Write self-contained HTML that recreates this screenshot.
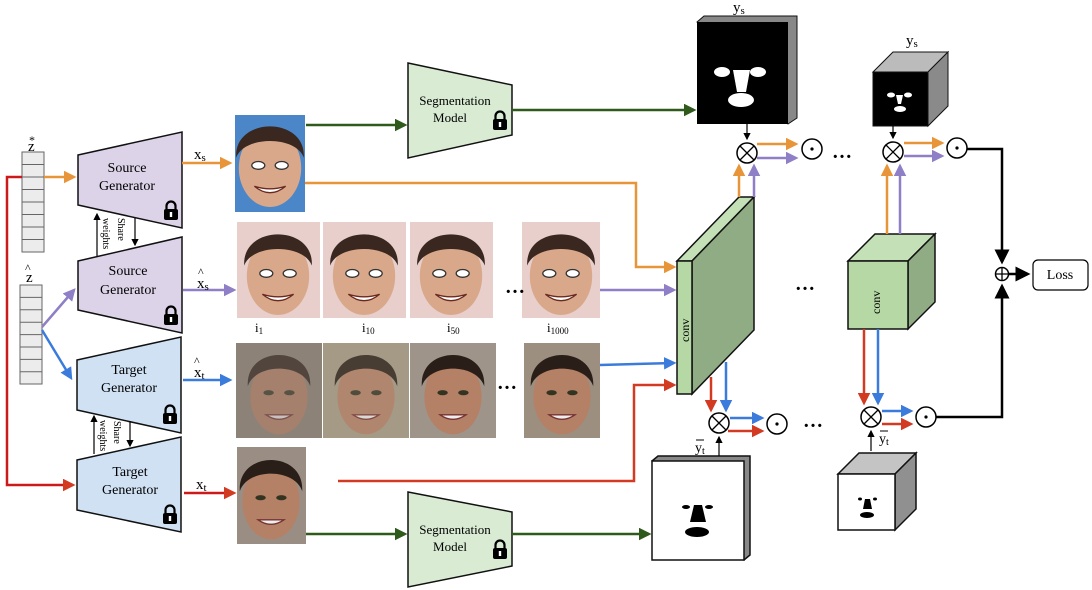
<!DOCTYPE html>
<html><head><meta charset="utf-8"><style>body{margin:0;background:#fff}svg{display:block}text{font-family:"Liberation Serif",serif;fill:#000}</style></head><body>
<svg width="1092" height="590" viewBox="0 0 1092 590" xmlns="http://www.w3.org/2000/svg">
<defs>
<marker id="ao" markerWidth="5" markerHeight="5" refX="4" refY="2.5" orient="auto" markerUnits="strokeWidth"><path d="M0,0L5,2.5L0,5z" fill="#e8953a"/></marker>
<marker id="ap" markerWidth="5" markerHeight="5" refX="4" refY="2.5" orient="auto" markerUnits="strokeWidth"><path d="M0,0L5,2.5L0,5z" fill="#8f7fc6"/></marker>
<marker id="ab" markerWidth="5" markerHeight="5" refX="4" refY="2.5" orient="auto" markerUnits="strokeWidth"><path d="M0,0L5,2.5L0,5z" fill="#3b7bdc"/></marker>
<marker id="ar" markerWidth="5" markerHeight="5" refX="4" refY="2.5" orient="auto" markerUnits="strokeWidth"><path d="M0,0L5,2.5L0,5z" fill="#d23a22"/></marker>
<marker id="ag" markerWidth="5" markerHeight="5" refX="4" refY="2.5" orient="auto" markerUnits="strokeWidth"><path d="M0,0L5,2.5L0,5z" fill="#2f5a1c"/></marker>
<marker id="ak" markerWidth="6" markerHeight="6" refX="5" refY="3" orient="auto" markerUnits="strokeWidth"><path d="M0,0L6,3L0,6z" fill="#000"/></marker>
<g id="lock"><rect x="-7" y="-4" width="14" height="11" rx="2" fill="#000"/><path d="M-4.5,-4v-3a4.5,4.5 0 0 1 9,0v3" fill="none" stroke="#000" stroke-width="2.2"/><rect x="-1.2" y="-1" width="2.4" height="5" fill="#fff"/></g>
<g id="face"><ellipse cx="0" cy="0" rx="24" ry="30" fill="#d9a88a"/><path d="M-26,-8C-28,-40 28,-40 26,-8C20,-25 -20,-25 -26,-8z" fill="#3a2820"/><ellipse cx="-9" cy="-2" rx="5" ry="3" fill="#fff" stroke="#333"/><ellipse cx="9" cy="-2" rx="5" ry="3" fill="#fff" stroke="#333"/><path d="M-12,14Q0,24 12,14Q0,18 -12,14z" fill="#fff" stroke="#6a2a20"/></g>
<g id="tface"><ellipse cx="0" cy="2" rx="22" ry="29" fill="#b48066"/><path d="M-24,-6C-26,-38 26,-38 24,-6C18,-24 -18,-24 -24,-6z" fill="#2a1e18"/><ellipse cx="-8" cy="-1" rx="4" ry="2" fill="#332"/><ellipse cx="8" cy="-1" rx="4" ry="2" fill="#332"/><path d="M-10,16Q0,23 10,16z" fill="#eee" stroke="#733"/></g>
</defs>

<g fill="#ececec" stroke="#666" stroke-width="1">
<rect x="22" y="152" width="22" height="100"/>
<path d="M22,164.5h22M22,177h22M22,189.5h22M22,202h22M22,214.5h22M22,227h22M22,239.5h22"/>
<rect x="20" y="285" width="22" height="99"/>
<path d="M20,297.4h22M20,309.8h22M20,322.2h22M20,334.6h22M20,347h22M20,359.4h22M20,371.8h22"/>
</g>
<text x="28" y="151" font-size="15">z</text><text x="29" y="144" font-size="12">*</text>
<text x="26" y="282" font-size="15">z</text><text x="25" y="272" font-size="12">^</text>

<g stroke="#111" stroke-width="1.5">
<path d="M78,155L182,132L182,228L78,205z" fill="#dcd3e8"/>
<path d="M78,261L182,237L182,333L78,310z" fill="#dcd3e8"/>
<path d="M77,360L181,337L181,433L77,410z" fill="#cfe1f3"/>
<path d="M77,460L181,437L181,532L77,510z" fill="#cfe1f3"/>
</g>
<g font-size="14" text-anchor="middle">
<text x="127" y="172">Source</text><text x="127" y="190">Generator</text>
<text x="128" y="275">Source</text><text x="128" y="294">Generator</text>
<text x="129" y="374">Target</text><text x="129" y="392">Generator</text>
<text x="130" y="476">Target</text><text x="130" y="494">Generator</text>
</g>
<use href="#lock" x="171" y="213"/><use href="#lock" x="171" y="318"/><use href="#lock" x="170" y="417"/><use href="#lock" x="170" y="517"/>
<g stroke="#000" stroke-width="1.2">
<line x1="97" y1="256" x2="97" y2="214" marker-end="url(#ak)"/><line x1="135" y1="218" x2="135" y2="245" marker-end="url(#ak)"/>
<line x1="94" y1="454" x2="94" y2="416" marker-end="url(#ak)"/><line x1="130" y1="421" x2="130" y2="446" marker-end="url(#ak)"/>
</g>
<text font-size="10" transform="translate(118,218) rotate(90)">Share</text><text font-size="10" transform="translate(103,218) rotate(90)">weights</text>
<text font-size="10" transform="translate(114,421) rotate(90)">Share</text><text font-size="10" transform="translate(100,420) rotate(90)">weights</text>

<g fill="none" stroke-width="2.5">
<line x1="44" y1="177" x2="74" y2="177" stroke="#e8953a" marker-end="url(#ao)"/>
<polyline points="22,177 7,177 7,485 73,485" stroke="#cc1a1a" marker-end="url(#ar)"/>
<line x1="42" y1="327" x2="74" y2="290" stroke="#8f7fc6" marker-end="url(#ap)"/>
<line x1="42" y1="330" x2="71" y2="378" stroke="#3b7bdc" marker-end="url(#ab)"/>
<line x1="182" y1="163" x2="230" y2="163" stroke="#e8953a" marker-end="url(#ao)"/>
<line x1="183" y1="290" x2="234" y2="290" stroke="#8f7fc6" marker-end="url(#ap)"/>
<line x1="183" y1="380" x2="230" y2="380" stroke="#3b7bdc" marker-end="url(#ab)"/>
<line x1="184" y1="493" x2="234" y2="493" stroke="#cc1a1a" marker-end="url(#ar)"/>
</g>
<text x="194" y="159" font-size="15">x<tspan font-size="11" dy="2">s</tspan></text>
<text x="197" y="288" font-size="15">x<tspan font-size="11" dy="2">s</tspan></text><text x="198" y="276" font-size="12">^</text>
<text x="194" y="377" font-size="15">x<tspan font-size="11" dy="2">t</tspan></text><text x="194" y="365" font-size="12">^</text>
<text x="196" y="489" font-size="15">x<tspan font-size="11" dy="2">t</tspan></text>

<rect x="235" y="115" width="70" height="97" fill="#4a86c8"/><use href="#face" transform="translate(270,168) scale(1.3)"/>
<g fill="#e8cfcc"><rect x="237" y="222" width="83" height="96"/><rect x="323" y="222" width="83" height="96"/><rect x="410" y="222" width="83" height="96"/><rect x="522" y="222" width="78" height="96"/></g>
<use href="#face" transform="translate(278,276) scale(1.3)"/><use href="#face" transform="translate(364,276) scale(1.3)"/><use href="#face" transform="translate(451,276) scale(1.3)"/><use href="#face" transform="translate(561,276) scale(1.3)"/>
<g><rect x="236" y="343" width="86" height="95" fill="#8d8278"/><rect x="323" y="343" width="86" height="95" fill="#a59a86"/><rect x="410" y="343" width="86" height="95" fill="#9f948a"/><rect x="524" y="343" width="76" height="95" fill="#9c8f80"/></g>
<use href="#tface" transform="translate(279,394) scale(1.3)" opacity="0.6"/><use href="#tface" transform="translate(366,394) scale(1.3)" opacity="0.75"/><use href="#tface" transform="translate(453,394) scale(1.3)"/><use href="#tface" transform="translate(562,394) scale(1.3)"/>
<rect x="237" y="447" width="69" height="97" fill="#9a8e84"/><use href="#tface" transform="translate(271,499) scale(1.3)"/>
<text x="505" y="293" font-size="20" font-weight="bold">…</text><text x="497" y="389" font-size="20" font-weight="bold">…</text>
<g font-size="13"><text x="255" y="332">i<tspan font-size="9" dy="2">1</tspan></text><text x="362" y="332">i<tspan font-size="9" dy="2">10</tspan></text><text x="447" y="332">i<tspan font-size="9" dy="2">50</tspan></text><text x="547" y="332">i<tspan font-size="9" dy="2">1000</tspan></text></g>

<path d="M408,63L512,85L512,135L408,158z" fill="#d9ecd3" stroke="#111" stroke-width="1.5"/>
<path d="M408,492L512,512L512,566L408,587z" fill="#d9ecd3" stroke="#111" stroke-width="1.5"/>
<g font-size="13" text-anchor="middle"><text x="455" y="105">Segmentation</text><text x="450" y="122">Model</text><text x="455" y="534">Segmentation</text><text x="450" y="551">Model</text></g>
<use href="#lock" x="500" y="123"/><use href="#lock" x="500" y="552"/>
<g fill="none" stroke="#2f5a1c" stroke-width="2.5">
<line x1="306" y1="125" x2="405" y2="125" marker-end="url(#ag)"/>
<line x1="512" y1="110" x2="694" y2="110" marker-end="url(#ag)"/>
<line x1="306" y1="534" x2="405" y2="534" marker-end="url(#ag)"/>
<line x1="512" y1="534" x2="649" y2="534" marker-end="url(#ag)"/>
</g>

<path d="M697,22L704,16L797,16L797,118L788,124z" fill="#888" stroke="#111"/>
<rect x="697" y="22" width="91" height="102" fill="#000"/>
<ellipse cx="722" cy="72" rx="8" ry="5" fill="#fff"/><ellipse cx="758" cy="72" rx="8" ry="5" fill="#fff"/><path d="M733,70L750,70L746,92L737,92z" fill="#fff"/><ellipse cx="741" cy="100" rx="13" ry="7" fill="#fff"/>
<text x="733" y="12" font-size="15">y<tspan font-size="11" dy="2">s</tspan></text>
<path d="M873,72L893,52L948,52L928,72z" fill="#bbb" stroke="#111"/><path d="M928,72L948,52L948,106L928,126z" fill="#8a8a8a" stroke="#111"/>
<rect x="873" y="72" width="55" height="54" fill="#000" stroke="#111"/>
<ellipse cx="891" cy="95" rx="4" ry="2.5" fill="#fff"/><ellipse cx="908" cy="95" rx="4" ry="2.5" fill="#fff"/><path d="M896,95L903,95L901,104L898,104z" fill="#fff"/><ellipse cx="900" cy="109" rx="6" ry="3" fill="#fff"/>
<text x="906" y="45" font-size="15">y<tspan font-size="11" dy="2">s</tspan></text>
<path d="M652,461L658,456L750,456L750,555L744,560z" fill="#888" stroke="#111" stroke-width="1.5"/>
<rect x="652" y="461" width="92" height="99" fill="#fff" stroke="#111" stroke-width="1.5"/>
<ellipse cx="686" cy="507" rx="4" ry="2" fill="#000"/><ellipse cx="709" cy="507" rx="4" ry="2" fill="#000"/><path d="M694,505L702,505L706,522L690,522z" fill="#000"/><ellipse cx="697" cy="532" rx="12" ry="5" fill="#000"/>
<path d="M838,474L859,453L916,453L895,474z" fill="#c4c4c4" stroke="#111" stroke-width="1.5"/><path d="M895,474L916,453L916,509L895,530z" fill="#909090" stroke="#111" stroke-width="1.5"/>
<rect x="838" y="474" width="57" height="56" fill="#fff" stroke="#111" stroke-width="1.5"/>
<ellipse cx="860" cy="499" rx="2" ry="1.5" fill="#000"/><ellipse cx="875" cy="499" rx="2" ry="1.5" fill="#000"/><path d="M865,499L870,499L872,509L863,509z" fill="#000"/><ellipse cx="867" cy="515" rx="7" ry="3" fill="#000"/>

<g fill="none" stroke-width="2.5">
<polyline points="305,183 636,183 636,267 674,267" stroke="#e8953a" marker-end="url(#ao)"/>
<line x1="600" y1="290" x2="674" y2="290" stroke="#8f7fc6" marker-end="url(#ap)"/>
<line x1="600" y1="365" x2="674" y2="363" stroke="#3b7bdc" marker-end="url(#ab)"/>
<polyline points="338,481 634,481 634,385 674,385" stroke="#d23a22" marker-end="url(#ar)"/>
</g>

<path d="M677,261L739,197L754,197L692,261z" fill="#c4e0b6" stroke="#111" stroke-width="1.5"/>
<path d="M692,261L754,197L754,330L692,394z" fill="#8fac84" stroke="#111" stroke-width="1.5"/>
<rect x="677" y="261" width="15" height="133" fill="#b5d8a4" stroke="#111" stroke-width="1.5"/>
<text font-size="12" transform="translate(689,342) rotate(-90)">conv</text>
<path d="M848,261L875,234L935,234L908,261z" fill="#c4e0b6" stroke="#111" stroke-width="1.5"/>
<path d="M908,261L935,234L935,302L908,329z" fill="#8fac84" stroke="#111" stroke-width="1.5"/>
<rect x="848" y="261" width="60" height="68" fill="#b5d8a4" stroke="#111" stroke-width="1.5"/>
<text font-size="12" transform="translate(880,314) rotate(-90)">conv</text>

<g fill="none" stroke-width="2.5">
<line x1="739" y1="197" x2="739" y2="166" stroke="#e8953a" marker-end="url(#ao)"/>
<line x1="754" y1="197" x2="754" y2="166" stroke="#8f7fc6" marker-end="url(#ap)"/>
<line x1="757" y1="144" x2="796" y2="144" stroke="#e8953a" marker-end="url(#ao)"/>
<line x1="757" y1="158" x2="796" y2="158" stroke="#8f7fc6" marker-end="url(#ap)"/>
<line x1="887" y1="234" x2="887" y2="166" stroke="#e8953a" marker-end="url(#ao)"/>
<line x1="900" y1="234" x2="900" y2="166" stroke="#8f7fc6" marker-end="url(#ap)"/>
<line x1="904" y1="143" x2="942" y2="143" stroke="#e8953a" marker-end="url(#ao)"/>
<line x1="904" y1="156" x2="942" y2="156" stroke="#8f7fc6" marker-end="url(#ap)"/>
<line x1="711" y1="377" x2="711" y2="410" stroke="#d23a22" marker-end="url(#ar)"/>
<line x1="726" y1="362" x2="726" y2="410" stroke="#3b7bdc" marker-end="url(#ab)"/>
<line x1="730" y1="418" x2="762" y2="418" stroke="#3b7bdc" marker-end="url(#ab)"/>
<line x1="728" y1="431" x2="762" y2="431" stroke="#d23a22" marker-end="url(#ar)"/>
<line x1="864" y1="329" x2="864" y2="403" stroke="#d23a22" marker-end="url(#ar)"/>
<line x1="878" y1="329" x2="878" y2="403" stroke="#3b7bdc" marker-end="url(#ab)"/>
<line x1="882" y1="411" x2="911" y2="411" stroke="#3b7bdc" marker-end="url(#ab)"/>
<line x1="882" y1="424" x2="911" y2="424" stroke="#d23a22" marker-end="url(#ar)"/>
</g>
<g stroke="#000" stroke-width="1.2" fill="none">
<line x1="747" y1="124" x2="747" y2="139" marker-end="url(#ak)"/>
<line x1="893" y1="126" x2="893" y2="138" marker-end="url(#ak)"/>
<line x1="719" y1="456" x2="719" y2="437" marker-end="url(#ak)"/>
<line x1="871" y1="451" x2="871" y2="431" marker-end="url(#ak)"/>
</g>

<g fill="#fff" stroke="#000" stroke-width="1.5">
<circle cx="747" cy="153" r="10"/><circle cx="812" cy="149" r="10"/>
<circle cx="893" cy="152" r="10"/><circle cx="957" cy="148" r="10"/>
<circle cx="719" cy="423" r="10"/><circle cx="777" cy="424" r="10"/>
<circle cx="871" cy="417" r="10"/><circle cx="926" cy="417" r="10"/>
<circle cx="1002" cy="274" r="6.5"/>
</g>
<g stroke="#000" stroke-width="1.3">
<path d="M740,146l14,14M754,146l-14,14"/><path d="M886,145l14,14M900,145l-14,14"/>
<path d="M712,416l14,14M726,416l-14,14"/><path d="M864,410l14,14M878,410l-14,14"/>
<path d="M995.5,274h13M1002,267.5v13"/>
</g>
<g fill="#000"><circle cx="812" cy="149" r="1.6"/><circle cx="957" cy="148" r="1.6"/><circle cx="777" cy="424" r="1.6"/><circle cx="926" cy="417" r="1.6"/></g>
<g fill="none" stroke="#000" stroke-width="2.5">
<polyline points="967,149 1002,149 1002,262" marker-end="url(#ak)"/>
<polyline points="936,417 1002,417 1002,286" marker-end="url(#ak)"/>
<line x1="1009" y1="274" x2="1028" y2="274" marker-end="url(#ak)"/>
</g>
<rect x="1033" y="260" width="55" height="30" rx="5" fill="#fff" stroke="#000" stroke-width="1.2"/>
<text x="1060" y="279" font-size="14" text-anchor="middle">Loss</text>
<g font-size="20" font-weight="bold"><text x="832" y="158">…</text><text x="795" y="290">…</text><text x="803" y="427">…</text></g>
<text x="695" y="452" font-size="14">y<tspan font-size="10" dy="2">t</tspan></text><line x1="696" y1="440" x2="704" y2="440" stroke="#000"/>
<text x="879" y="443" font-size="14">y<tspan font-size="10" dy="2">t</tspan></text><line x1="880" y1="431" x2="888" y2="431" stroke="#000"/>
</svg>
</body></html>
